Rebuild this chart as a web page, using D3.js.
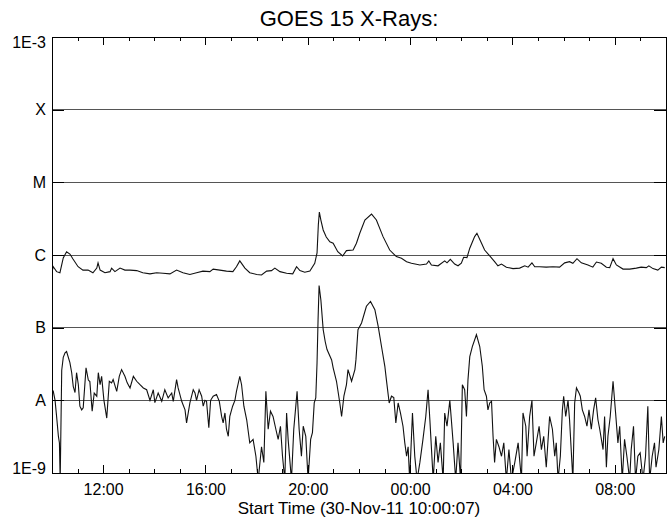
<!DOCTYPE html>
<html><head><meta charset="utf-8">
<script src="https://cdn.jsdelivr.net/npm/d3@7"></script>
<style>
body{margin:0;background:#fff}
svg{display:block}
text{font-family:"Liberation Sans",Arial,Helvetica,sans-serif;fill:#000}
</style>
</head><body>
<svg id="chart" width="667" height="518"></svg>
<script>
// ---------------- data ----------------
const titleText = "GOES 15 X-Rays:";
const xAxisTitle = "Start Time (30-Nov-11 10:00:07)";
const startTime = "2011-11-30T10:00:07Z";
const spanHours = 24;
const levelValues = [1e-9, 1e-8, 1e-7, 1e-6, 1e-5, 1e-4, 1e-3];
const levelLabels = ["1E-9", "A", "B", "C", "M", "X", "1E-3"];

// [hours after start, flux W/m^2] — 1.0-8.0 Å channel
const longChannel = [
[0.00,5.9e-7],[0.05,6.9e-7],[0.18,5.9e-7],[0.31,5.7e-7],[0.44,9.1e-7],[0.57,1.11e-6],[0.70,1.03e-6],[0.82,8.8e-7],
[1.02,6.9e-7],[1.21,6.2e-7],[1.41,6.2e-7],[1.60,5.7e-7],[1.75,6.6e-7],[1.80,7.8e-7],[1.88,6.2e-7],[2.07,5.7e-7],
[2.27,5.9e-7],[2.33,6.6e-7],[2.46,5.9e-7],[2.66,6.6e-7],[2.85,6.2e-7],[3.05,6.2e-7],[3.31,6.1e-7],[3.55,5.7e-7],
[3.83,5.5e-7],[4.09,5.7e-7],[4.34,5.6e-7],[4.61,5.5e-7],[4.87,6.2e-7],[5.12,5.7e-7],[5.39,5.4e-7],[5.65,5.7e-7],
[5.90,6.0e-7],[6.17,5.9e-7],[6.30,6.4e-7],[6.56,6.2e-7],[6.82,6.0e-7],[7.07,5.9e-7],[7.21,6.9e-7],[7.34,8.3e-7],
[7.54,6.6e-7],[7.73,5.7e-7],[8.00,5.4e-7],[8.19,5.3e-7],[8.39,6.0e-7],[8.58,6.1e-7],[8.71,6.6e-7],[8.91,5.9e-7],
[9.17,5.6e-7],[9.41,5.5e-7],[9.56,6.9e-7],[9.69,6.1e-7],[9.88,5.8e-7],[10.08,6.0e-7],[10.27,7.7e-7],[10.36,1.07e-6],
[10.41,2.59e-6],[10.45,3.9e-6],[10.51,3.03e-6],[10.60,2.21e-6],[10.72,1.77e-6],[10.86,1.52e-6],[10.99,1.45e-6],
[11.17,1.11e-6],[11.36,9.7e-7],[11.51,1.15e-6],[11.77,1.17e-6],[11.90,1.45e-6],[12.03,1.99e-6],[12.23,3.03e-6],
[12.49,3.66e-6],[12.68,3.03e-6],[12.94,1.79e-6],[13.20,1.17e-6],[13.46,9.5e-7],[13.66,9.0e-7],[13.86,8.1e-7],
[14.05,7.7e-7],[14.38,7.3e-7],[14.64,7.5e-7],[14.73,8.3e-7],[14.83,7.3e-7],[15.09,7.1e-7],[15.35,8.3e-7],[15.44,7.8e-7],
[15.57,8.7e-7],[15.74,7.5e-7],[15.87,7.1e-7],[16.00,7.7e-7],[16.09,9.3e-7],[16.22,9.2e-7],[16.33,1.24e-6],[16.52,1.79e-6],
[16.61,1.99e-6],[16.79,1.45e-6],[16.91,1.17e-6],[17.11,9.7e-7],[17.30,8.1e-7],[17.43,7.1e-7],[17.57,7.5e-7],[17.76,6.8e-7],
[18.02,6.5e-7],[18.28,6.6e-7],[18.48,7.1e-7],[18.61,6.8e-7],[18.76,7.8e-7],[18.87,6.9e-7],[19.06,6.9e-7],[19.32,6.8e-7],
[19.58,6.9e-7],[19.84,6.8e-7],[20.04,7.8e-7],[20.23,8.1e-7],[20.36,7.7e-7],[20.52,8.9e-7],[20.69,7.8e-7],[20.95,7.3e-7],
[21.14,6.8e-7],[21.28,8.0e-7],[21.47,7.7e-7],[21.67,6.8e-7],[21.80,6.7e-7],[21.93,8.9e-7],[22.06,7.3e-7],[22.32,6.4e-7],
[22.58,6.4e-7],[22.84,6.6e-7],[23.03,6.8e-7],[23.23,6.7e-7],[23.33,7.1e-7],[23.49,6.5e-7],[23.68,6.2e-7],[23.82,6.8e-7],
[23.95,6.7e-7]
];

// [hours after start, flux W/m^2] — 0.5-4.0 Å channel (values under 1E-9 fall off the plot)
const shortChannel = [
[0.00,1.40e-8],[0.05,1.33e-8],[0.12,1.0e-8],[0.18,6.0e-9],[0.25,3.2e-9],[0.29,2.6e-9],[0.32,8e-10],[0.38,2.6e-8],
[0.44,3.9e-8],[0.51,4.5e-8],[0.57,4.7e-8],[0.70,3.3e-8],[0.77,2.4e-8],[0.83,1.56e-8],[0.90,1.28e-8],[0.96,2.4e-8],
[1.03,1.64e-8],[1.09,8.3e-9],[1.16,7.4e-9],[1.22,7.9e-9],[1.33,2.8e-8],[1.42,1.9e-8],[1.48,1.81e-8],[1.57,7.1e-9],
[1.65,1.26e-8],[1.75,1.14e-8],[1.81,2.4e-8],[1.88,1.64e-8],[1.94,2.14e-8],[2.03,1.0e-8],[2.14,5.7e-9],[2.24,1.83e-8],
[2.33,1.74e-8],[2.39,1.93e-8],[2.53,1.33e-8],[2.63,2.14e-8],[2.72,2.65e-8],[2.85,2.14e-8],[2.94,1.74e-8],[3.05,1.48e-8],
[3.18,2.14e-8],[3.31,1.83e-8],[3.44,1.64e-8],[3.57,1.48e-8],[3.70,1.40e-8],[3.83,1.0e-8],[3.96,1.40e-8],[4.02,9.3e-9],
[4.15,1.26e-8],[4.29,9.7e-9],[4.41,1.40e-8],[4.54,1.08e-8],[4.68,1.26e-8],[4.74,9.7e-9],[4.87,1.93e-8],[4.93,1.48e-8],
[5.07,9.7e-9],[5.20,7.4e-9],[5.26,4.9e-9],[5.39,9.2e-9],[5.52,1.40e-8],[5.59,1.26e-8],[5.65,1.0e-8],[5.75,1.40e-8],
[5.85,1.14e-8],[5.91,8.3e-9],[5.98,1.0e-8],[6.04,9.7e-9],[6.13,4.2e-9],[6.20,1.0e-8],[6.30,1.14e-8],[6.43,1.2e-8],
[6.54,9.7e-9],[6.63,6.0e-9],[6.69,4.9e-9],[6.76,6.7e-9],[6.82,4.0e-9],[6.89,3.2e-9],[6.95,6.0e-9],[7.06,8.3e-9],
[7.15,1.0e-8],[7.21,1.33e-8],[7.34,2.14e-8],[7.41,1.64e-8],[7.50,8.3e-9],[7.61,5.4e-9],[7.73,2.6e-9],[7.86,2.9e-9],
[7.97,1.7e-9],[8.06,8e-10],[8.19,2.3e-9],[8.28,1.4e-9],[8.36,1.33e-8],[8.45,4.0e-9],[8.54,7.1e-9],[8.64,6.0e-9],
[8.75,4.0e-9],[8.84,2.9e-9],[8.93,4.4e-9],[9.01,1.7e-9],[9.10,8e-10],[9.17,6.7e-9],[9.23,2.9e-9],[9.36,8e-10],
[9.45,4.0e-9],[9.58,1.33e-8],[9.66,4.0e-9],[9.75,1.7e-9],[9.82,4.4e-9],[9.92,3.2e-9],[10.01,8e-10],[10.11,2.9e-9],
[10.18,3.6e-9],[10.25,9.2e-9],[10.31,1.08e-8],[10.36,3.3e-8],[10.40,1.29e-7],[10.44,3.8e-7],[10.51,2.4e-7],[10.60,9.4e-8],
[10.68,6.4e-8],[10.75,5.0e-8],[10.93,3.6e-8],[10.99,2.8e-8],[11.12,1.83e-8],[11.25,9.2e-9],[11.32,6.0e-9],[11.41,1.14e-8],
[11.51,1.64e-8],[11.57,2.65e-8],[11.71,1.83e-8],[11.84,2.65e-8],[11.88,3.6e-8],[11.96,9.4e-8],[12.10,1.16e-7],[12.29,1.97e-7],
[12.45,2.3e-7],[12.62,1.77e-7],[12.75,1.04e-7],[12.88,5.5e-8],[13.01,2.94e-8],[13.07,1.93e-8],[13.18,9.2e-9],[13.27,1.14e-8],
[13.36,1.09e-8],[13.44,4.9e-9],[13.53,9.2e-9],[13.62,6.7e-9],[13.72,4.4e-9],[13.79,2.6e-9],[13.86,1.7e-9],[13.92,2.3e-9],
[13.98,8e-10],[14.09,6.7e-9],[14.18,1.7e-9],[14.27,8e-10],[14.38,1.4e-9],[14.50,2.9e-9],[14.61,6.0e-9],[14.70,1.40e-8],
[14.77,5.4e-9],[14.90,8e-10],[15.00,3.2e-9],[15.09,1.4e-9],[15.18,2.6e-9],[15.29,8e-10],[15.35,6.7e-9],[15.44,4.4e-9],
[15.55,1.0e-8],[15.61,5.4e-9],[15.68,2.6e-9],[15.78,8e-10],[15.87,2.6e-9],[15.97,8e-10],[16.04,1.64e-8],[16.13,1.40e-8],
[16.20,6.0e-9],[16.26,1.93e-8],[16.33,4.0e-8],[16.43,5.5e-8],[16.59,8.0e-8],[16.72,5.5e-8],[16.82,2.94e-8],[16.89,1.40e-8],
[16.98,1.14e-8],[17.04,7.4e-9],[17.11,9.2e-9],[17.18,9.7e-9],[17.24,3.2e-9],[17.30,1.4e-9],[17.37,2.9e-9],[17.47,2.3e-9],
[17.57,1.7e-9],[17.66,2.6e-9],[17.76,8e-10],[17.86,2.1e-9],[17.96,8e-10],[18.09,1.4e-9],[18.22,2.6e-9],[18.35,8e-10],
[18.41,6.7e-9],[18.52,4.4e-9],[18.57,1.7e-9],[18.67,6.0e-9],[18.76,1.0e-8],[18.84,1.7e-9],[18.93,2.6e-9],[19.04,4.4e-9],
[19.13,2.1e-9],[19.22,3.2e-9],[19.32,1.2e-9],[19.45,6.0e-9],[19.56,4.0e-9],[19.65,1.7e-9],[19.71,2.6e-9],[19.78,8e-10],
[19.87,1.7e-9],[19.95,7.4e-9],[20.00,1.14e-8],[20.08,6.0e-9],[20.17,1.0e-8],[20.23,5.4e-9],[20.36,8e-10],[20.43,9.2e-9],
[20.50,1.48e-8],[20.60,1.26e-8],[20.65,1.14e-8],[20.73,7.4e-9],[20.82,6.0e-9],[20.91,4.4e-9],[20.99,7.4e-9],[21.08,4.0e-9],
[21.17,7.4e-9],[21.25,1.08e-8],[21.34,5.4e-9],[21.41,4.0e-9],[21.54,2.1e-9],[21.60,6.0e-9],[21.67,1.2e-9],[21.73,3.2e-9],
[21.82,6.0e-9],[21.93,1.83e-8],[22.03,6.7e-9],[22.12,2.6e-9],[22.19,4.4e-9],[22.29,8e-10],[22.38,2.9e-9],[22.47,1.7e-9],
[22.58,8e-10],[22.64,2.1e-9],[22.73,4.4e-9],[22.81,8e-10],[22.90,1.7e-9],[22.99,1.9e-9],[23.10,8e-10],[23.20,1.7e-9],
[23.29,8.3e-9],[23.36,8e-10],[23.46,1.7e-9],[23.55,2.6e-9],[23.61,1.2e-9],[23.72,2.1e-9],[23.82,6.0e-9],[23.89,2.6e-9],
[23.95,3.2e-9]
];

// ---------------- chart ----------------
const svg = d3.select("#chart");
const L = 52, R = 666, T = 37, B = 473;
const start = new Date(startTime);
const end = new Date(start.getTime() + spanHours * 3600e3);
const toDate = h => new Date(start.getTime() + h * 3600e3);

const x = d3.scaleUtc().domain([start, end]).range([L, R]);
const y = d3.scaleLog().domain([levelValues[0], levelValues[levelValues.length - 1]]).range([B, T]);

svg.append("defs").append("clipPath").attr("id", "plotClip")
  .append("rect").attr("x", L).attr("y", T).attr("width", R - L).attr("height", B - T);

// decade grid lines
svg.append("g").selectAll("line")
  .data(levelValues.slice(1, -1))
  .join("line")
  .attr("x1", L).attr("x2", R)
  .attr("y1", d => y(d)).attr("y2", d => y(d))
  .attr("stroke", "#555").attr("stroke-width", 1)
  .attr("shape-rendering", "crispEdges");

// traces
const line = d3.line().x(d => x(toDate(d[0]))).y(d => y(d[1]));
const traces = svg.append("g").attr("clip-path", "url(#plotClip)");
traces.append("path").datum(shortChannel).attr("d", line)
  .attr("fill", "none").attr("stroke", "#111").attr("stroke-width", 1.1);
traces.append("path").datum(longChannel).attr("d", line)
  .attr("fill", "none").attr("stroke", "#111").attr("stroke-width", 1.1);

// axes
function styleAxis(g) {
  g.select(".domain").remove();
  g.selectAll(".tick line").attr("stroke", "#000").attr("shape-rendering", "crispEdges");
  g.selectAll("text").attr("font-size", 16).attr("font-family", '"Liberation Sans",Arial,sans-serif');
}
const hourly = d3.utcHour.every(1);
const fourHourly = d3.utcHour.every(4);

svg.append("g").attr("transform", `translate(0,${B})`)
  .call(d3.axisBottom(x).ticks(hourly).tickSize(-4).tickFormat(""))
  .call(styleAxis);
svg.append("g").attr("transform", `translate(0,${B})`)
  .call(d3.axisBottom(x).ticks(fourHourly).tickSize(-8).tickPadding(11).tickFormat(d3.utcFormat("%H:%M")))
  .call(styleAxis);
svg.append("g").attr("transform", `translate(0,${T})`)
  .call(d3.axisTop(x).ticks(hourly).tickSize(-4).tickFormat(""))
  .call(styleAxis);
svg.append("g").attr("transform", `translate(0,${T})`)
  .call(d3.axisTop(x).ticks(fourHourly).tickSize(-8).tickFormat(""))
  .call(styleAxis);

const yAxisG = svg.append("g").attr("transform", `translate(${L},0)`)
  .call(d3.axisLeft(y).tickValues(levelValues).tickSize(-12).tickPadding(6)
    .tickFormat((d, i) => levelLabels[i]))
  .call(styleAxis);
// end labels sit inside the axis range
yAxisG.selectAll(".tick text").attr("dy", (d, i) =>
  i === 0 ? "0.05em" : (i === levelValues.length - 1 ? "0.68em" : "0.32em"));

svg.append("g").attr("transform", `translate(${R},0)`)
  .call(d3.axisRight(y).tickValues(levelValues).tickSize(-12).tickFormat(""))
  .call(styleAxis);

// frame
svg.append("rect").attr("x", L).attr("y", T).attr("width", R - L).attr("height", B - T)
  .attr("fill", "none").attr("stroke", "#000").attr("stroke-width", 1)
  .attr("shape-rendering", "crispEdges");

// titles
svg.append("text").attr("x", 349).attr("y", 26).attr("text-anchor", "middle")
  .attr("font-size", 22).text(titleText);
svg.append("text").attr("x", 359).attr("y", 514).attr("text-anchor", "middle")
  .attr("font-size", 17).text(xAxisTitle);
</script>
</body></html>
